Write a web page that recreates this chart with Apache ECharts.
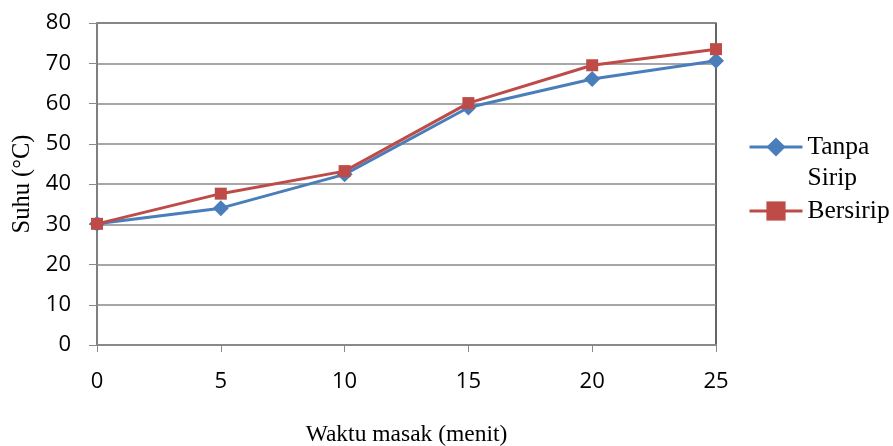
<!DOCTYPE html>
<html>
<head>
<meta charset="utf-8">
<script src="https://cdn.jsdelivr.net/npm/echarts@6/dist/echarts.min.js"></script>
<style>
  html, body { margin: 0; padding: 0; background: #fff; }
  #chart { width: 893px; height: 446px; }
</style>
</head>
<body>
<div id="chart"></div>
<script>
// Cooking time (minutes) and measured temperature for both pans
const waktu = [0, 5, 10, 15, 20, 25];
const tanpaSirip = [30.1, 34.0, 42.4, 59.0, 66.1, 70.6];
const bersirip = [30.1, 37.6, 43.2, 60.1, 69.5, 73.5];
const yTicks = [0, 10, 20, 30, 40, 50, 60, 70, 80];

const serif = '"Liberation Serif", "Times New Roman", serif';
const sans = '"Open Sans", "Liberation Sans", sans-serif';
const gray = '#898989';

const chart = echarts.init(document.getElementById('chart'));

chart.setOption({
  animation: false,
  backgroundColor: '#fff',
  grid: {
    left: 97, right: 177, top: 23, bottom: 101,
    outerBoundsMode: 'none',
    show: true, borderColor: '#000', borderWidth: 1.2
  },
  xAxis: {
    type: 'value',
    min: waktu[0], max: waktu[waktu.length - 1], interval: 5,
    name: 'Waktu masak (menit)',
    nameLocation: 'middle', nameGap: 78,
    nameTextStyle: { fontFamily: serif, fontSize: 23.5, color: '#000' },
    axisLine: { show: true, onZero: false, lineStyle: { color: gray, width: 2 } },
    axisTick: { show: true, length: 7, lineStyle: { color: gray, width: 1 } },
    axisLabel: { margin: 26, fontFamily: sans, fontSize: 22, color: '#000' },
    splitLine: { show: false }
  },
  yAxis: {
    type: 'value',
    min: yTicks[0], max: yTicks[yTicks.length - 1], interval: 10,
    name: 'Suhu (°C)',
    nameLocation: 'middle', nameGap: 62,
    nameTextStyle: { fontFamily: serif, fontSize: 24.5, color: '#000' },
    axisLine: { show: true, lineStyle: { color: gray, width: 1.5 } },
    axisTick: { show: true, length: 8, lineStyle: { color: gray, width: 1 } },
    axisLabel: { margin: 26, fontFamily: sans, fontSize: 22, color: '#000' },
    splitLine: { show: true, lineStyle: { color: gray, width: 1.5 } }
  },
  legend: [
    {
      data: ['Tanpa Sirip'],
      left: 748, top: 100.5,
      padding: 0,
      itemWidth: 53, itemHeight: 24,
      selectedMode: false,
      lineStyle: { width: 3 },
      // blank first line keeps "Tanpa" level with the marker
      formatter: () => '\nTanpa\nSirip',
      textStyle: { fontFamily: serif, fontSize: 25.5, lineHeight: 31, color: '#000' }
    },
    {
      data: ['Bersirip'],
      left: 748, top: 195.5,
      padding: 0,
      itemWidth: 53, itemHeight: 24,
      selectedMode: false,
      lineStyle: { width: 3 },
      textStyle: { fontFamily: serif, fontSize: 25.5, lineHeight: 31, color: '#000' }
    }
  ],
  series: [
    {
      name: 'Tanpa Sirip',
      type: 'line',
      data: waktu.map((t, i) => [t, tanpaSirip[i]]),
      symbol: 'diamond', symbolSize: 16,
      lineStyle: { color: '#4a7ebb', width: 3 },
      itemStyle: { color: '#4a7ebb' },
      z: 3
    },
    {
      name: 'Bersirip',
      type: 'line',
      data: waktu.map((t, i) => [t, bersirip[i]]),
      symbol: 'rect', symbolSize: 12,
      lineStyle: { color: '#be4b48', width: 3 },
      itemStyle: { color: '#be4b48' },
      z: 4
    }
  ]
});
</script>
</body>
</html>
